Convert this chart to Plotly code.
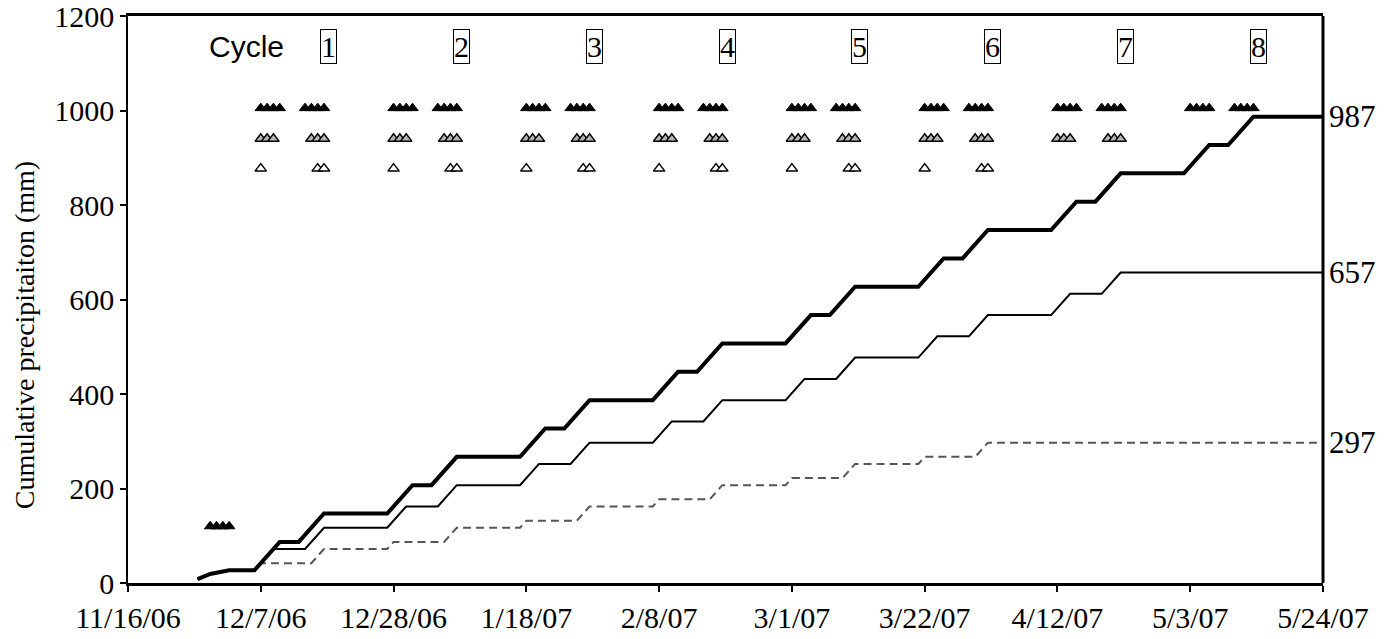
import plotly.graph_objects as go

# Cumulative precipitation (mm) at break-point dates, one list per treatment
high_dates = ["2006-11-27", "2006-11-29", "2006-12-02", "2006-12-06",
              "2006-12-10", "2006-12-13", "2006-12-17", "2006-12-27",
              "2006-12-31", "2007-01-03", "2007-01-07", "2007-01-17",
              "2007-01-21", "2007-01-24", "2007-01-28", "2007-02-07",
              "2007-02-11", "2007-02-14", "2007-02-18", "2007-02-28",
              "2007-03-04", "2007-03-07", "2007-03-11", "2007-03-21",
              "2007-03-25", "2007-03-28", "2007-04-01", "2007-04-11",
              "2007-04-15", "2007-04-18", "2007-04-22", "2007-05-02",
              "2007-05-06", "2007-05-09", "2007-05-13", "2007-05-24"]
high_vals = [8, 19, 27, 27,
             87, 87, 147, 147,
             207, 207, 267, 267,
             327, 327, 387, 387,
             447, 447, 507, 507,
             567, 567, 627, 627,
             687, 687, 747, 747,
             807, 807, 867, 867,
             927, 927, 987, 987]

mid_dates = ["2006-11-27", "2006-11-29", "2006-12-02", "2006-12-06",
             "2006-12-09", "2006-12-14", "2006-12-17", "2006-12-27",
             "2006-12-30", "2007-01-04", "2007-01-07", "2007-01-17",
             "2007-01-20", "2007-01-25", "2007-01-28", "2007-02-07",
             "2007-02-10", "2007-02-15", "2007-02-18", "2007-02-28",
             "2007-03-03", "2007-03-08", "2007-03-11", "2007-03-21",
             "2007-03-24", "2007-03-29", "2007-04-01", "2007-04-11",
             "2007-04-14", "2007-04-19", "2007-04-22", "2007-05-24"]
mid_vals = [8, 19, 27, 27,
            72, 72, 117, 117,
            162, 162, 207, 207,
            252, 252, 297, 297,
            342, 342, 387, 387,
            432, 432, 477, 477,
            522, 522, 567, 567,
            612, 612, 657, 657]

low_dates = ["2006-11-27", "2006-11-29", "2006-12-02", "2006-12-06",
             "2006-12-07", "2006-12-15", "2006-12-17", "2006-12-27",
             "2006-12-28", "2007-01-05", "2007-01-07", "2007-01-17",
             "2007-01-18", "2007-01-26", "2007-01-28", "2007-02-07",
             "2007-02-08", "2007-02-16", "2007-02-18", "2007-02-28",
             "2007-03-01", "2007-03-09", "2007-03-11", "2007-03-21",
             "2007-03-22", "2007-03-30", "2007-04-01", "2007-05-24"]
low_vals = [8, 19, 27, 27,
            42, 42, 72, 72,
            87, 87, 117, 117,
            132, 132, 162, 162,
            177, 177, 207, 207,
            222, 222, 252, 252,
            267, 267, 297, 297]

end_labels = ["987", "657", "297"]
end_values = [987, 657, 297]

# Irrigation days per treatment (one triangle per day)
pre_days = ["2006-11-29", "2006-11-30", "2006-12-01", "2006-12-02"]
high_days = ["2006-12-07", "2006-12-08", "2006-12-09", "2006-12-10",
             "2006-12-14", "2006-12-15", "2006-12-16", "2006-12-17",
             "2006-12-28", "2006-12-29", "2006-12-30", "2006-12-31",
             "2007-01-04", "2007-01-05", "2007-01-06", "2007-01-07",
             "2007-01-18", "2007-01-19", "2007-01-20", "2007-01-21",
             "2007-01-25", "2007-01-26", "2007-01-27", "2007-01-28",
             "2007-02-08", "2007-02-09", "2007-02-10", "2007-02-11",
             "2007-02-15", "2007-02-16", "2007-02-17", "2007-02-18",
             "2007-03-01", "2007-03-02", "2007-03-03", "2007-03-04",
             "2007-03-08", "2007-03-09", "2007-03-10", "2007-03-11",
             "2007-03-22", "2007-03-23", "2007-03-24", "2007-03-25",
             "2007-03-29", "2007-03-30", "2007-03-31", "2007-04-01",
             "2007-04-12", "2007-04-13", "2007-04-14", "2007-04-15",
             "2007-04-19", "2007-04-20", "2007-04-21", "2007-04-22",
             "2007-05-03", "2007-05-04", "2007-05-05", "2007-05-06",
             "2007-05-10", "2007-05-11", "2007-05-12", "2007-05-13"]
mid_days = ["2006-12-07", "2006-12-08", "2006-12-09",
            "2006-12-15", "2006-12-16", "2006-12-17",
            "2006-12-28", "2006-12-29", "2006-12-30",
            "2007-01-05", "2007-01-06", "2007-01-07",
            "2007-01-18", "2007-01-19", "2007-01-20",
            "2007-01-26", "2007-01-27", "2007-01-28",
            "2007-02-08", "2007-02-09", "2007-02-10",
            "2007-02-16", "2007-02-17", "2007-02-18",
            "2007-03-01", "2007-03-02", "2007-03-03",
            "2007-03-09", "2007-03-10", "2007-03-11",
            "2007-03-22", "2007-03-23", "2007-03-24",
            "2007-03-30", "2007-03-31", "2007-04-01",
            "2007-04-12", "2007-04-13", "2007-04-14",
            "2007-04-20", "2007-04-21", "2007-04-22"]
low_days = ["2006-12-07", "2006-12-16", "2006-12-17",
            "2006-12-28", "2007-01-06", "2007-01-07",
            "2007-01-18", "2007-01-27", "2007-01-28",
            "2007-02-08", "2007-02-17", "2007-02-18",
            "2007-03-01", "2007-03-10", "2007-03-11",
            "2007-03-22", "2007-03-31", "2007-04-01"]

# Row heights (mm) of the triangle rows
pre_row = 120
high_row = 1005
mid_row = 940
low_row = 877

cycle_labels = ["1", "2", "3", "4", "5", "6", "7", "8"]
cycle_label_dates = ["2006-12-17 18:00", "2007-01-07 18:00", "2007-01-28 18:00",
                     "2007-02-18 18:00", "2007-03-11 18:00", "2007-04-01 18:00",
                     "2007-04-22 18:00", "2007-05-13 18:00"]
cycle_row = 1135

x_tick_vals = ["2006-11-16", "2006-12-07", "2006-12-28", "2007-01-18",
               "2007-02-08", "2007-03-01", "2007-03-22", "2007-04-12",
               "2007-05-03", "2007-05-24"]
x_tick_text = ["11/16/06", "12/7/06", "12/28/06", "1/18/07", "2/8/07",
               "3/1/07", "3/22/07", "4/12/07", "5/3/07", "5/24/07"]
y_tick_vals = [0, 200, 400, 600, 800, 1000, 1200]

SERIF = "Times New Roman, Liberation Serif, serif"
SANS = "Arial, Liberation Sans, sans-serif"

fig = go.Figure()

fig.add_trace(go.Scatter(x=low_dates, y=low_vals, mode="lines",
                         line=dict(color="#555555", width=2, dash="8px,5px")))
fig.add_trace(go.Scatter(x=mid_dates, y=mid_vals, mode="lines",
                         line=dict(color="black", width=2)))
fig.add_trace(go.Scatter(x=high_dates, y=high_vals, mode="lines",
                         line=dict(color="black", width=4)))

tri = dict(symbol="triangle-up", size=10)
fig.add_trace(go.Scatter(x=pre_days, y=[pre_row] * len(pre_days), mode="markers",
                         marker=dict(**tri, color="black",
                                     line=dict(color="black", width=1))))
fig.add_trace(go.Scatter(x=high_days, y=[high_row] * len(high_days), mode="markers",
                         marker=dict(**tri, color="black",
                                     line=dict(color="black", width=1))))
fig.add_trace(go.Scatter(x=mid_days, y=[mid_row] * len(mid_days), mode="markers",
                         marker=dict(**tri, color="#b4b4b4",
                                     line=dict(color="black", width=1.5))))
fig.add_trace(go.Scatter(x=low_days, y=[low_row] * len(low_days), mode="markers",
                         marker=dict(**tri, color="white",
                                     line=dict(color="black", width=1.5))))

annotations = []
annotations.append(dict(x="2006-12-04 18:00", y=cycle_row, xref="x", yref="y",
                        text="Cycle", showarrow=False,
                        font=dict(family=SANS, size=30, color="black")))
for lab, d in zip(cycle_labels, cycle_label_dates):
    annotations.append(dict(x=d, y=cycle_row, xref="x", yref="y", text=lab,
                            showarrow=False, bordercolor="black", borderwidth=1,
                            borderpad=0,
                            font=dict(family=SERIF, size=30, color="black")))
for lab, v in zip(end_labels, end_values):
    annotations.append(dict(x="2007-05-24", y=v, xref="x", yref="y", text=lab,
                            showarrow=False, xanchor="left", xshift=4,
                            font=dict(family=SERIF, size=31, color="black")))
annotations.append(dict(x=-0.087, y=0.437, xref="paper", yref="paper",
                        xanchor="center", yanchor="middle",
                        text="Cumulative precipitaiton (mm)", textangle=-90,
                        showarrow=False,
                        font=dict(family=SERIF, size=28, color="black")))

fig.update_layout(
    width=1400, height=639,
    margin=dict(l=128, r=77, t=16, b=56),
    paper_bgcolor="white", plot_bgcolor="white",
    showlegend=False,
    annotations=annotations,
    shapes=[dict(type="line", xref="paper", yref="paper", x0=1, x1=1, y0=0, y1=1,
                 line=dict(color="black", width=3))],
    xaxis=dict(type="date", range=["2006-11-16", "2007-05-24"],
               tickmode="array", tickvals=x_tick_vals, ticktext=x_tick_text,
               ticks="outside", ticklen=6, tickwidth=1.5, tickcolor="black",
               showline=True, linecolor="black", linewidth=3, mirror=True,
               showgrid=False, zeroline=False, automargin=False,
               ticklabeloverflow="allow",
               tickfont=dict(family=SERIF, size=30, color="black")),
    yaxis=dict(range=[0, 1200], tickmode="array", tickvals=y_tick_vals,
               ticks="outside", ticklen=6, tickwidth=1.5, tickcolor="black",
               showline=True, linecolor="black", linewidth=1.5,
               showgrid=False, zeroline=False, automargin=False,
               ticklabeloverflow="allow",
               tickfont=dict(family=SERIF, size=30, color="black")),
)

fig.write_html("out.html")
